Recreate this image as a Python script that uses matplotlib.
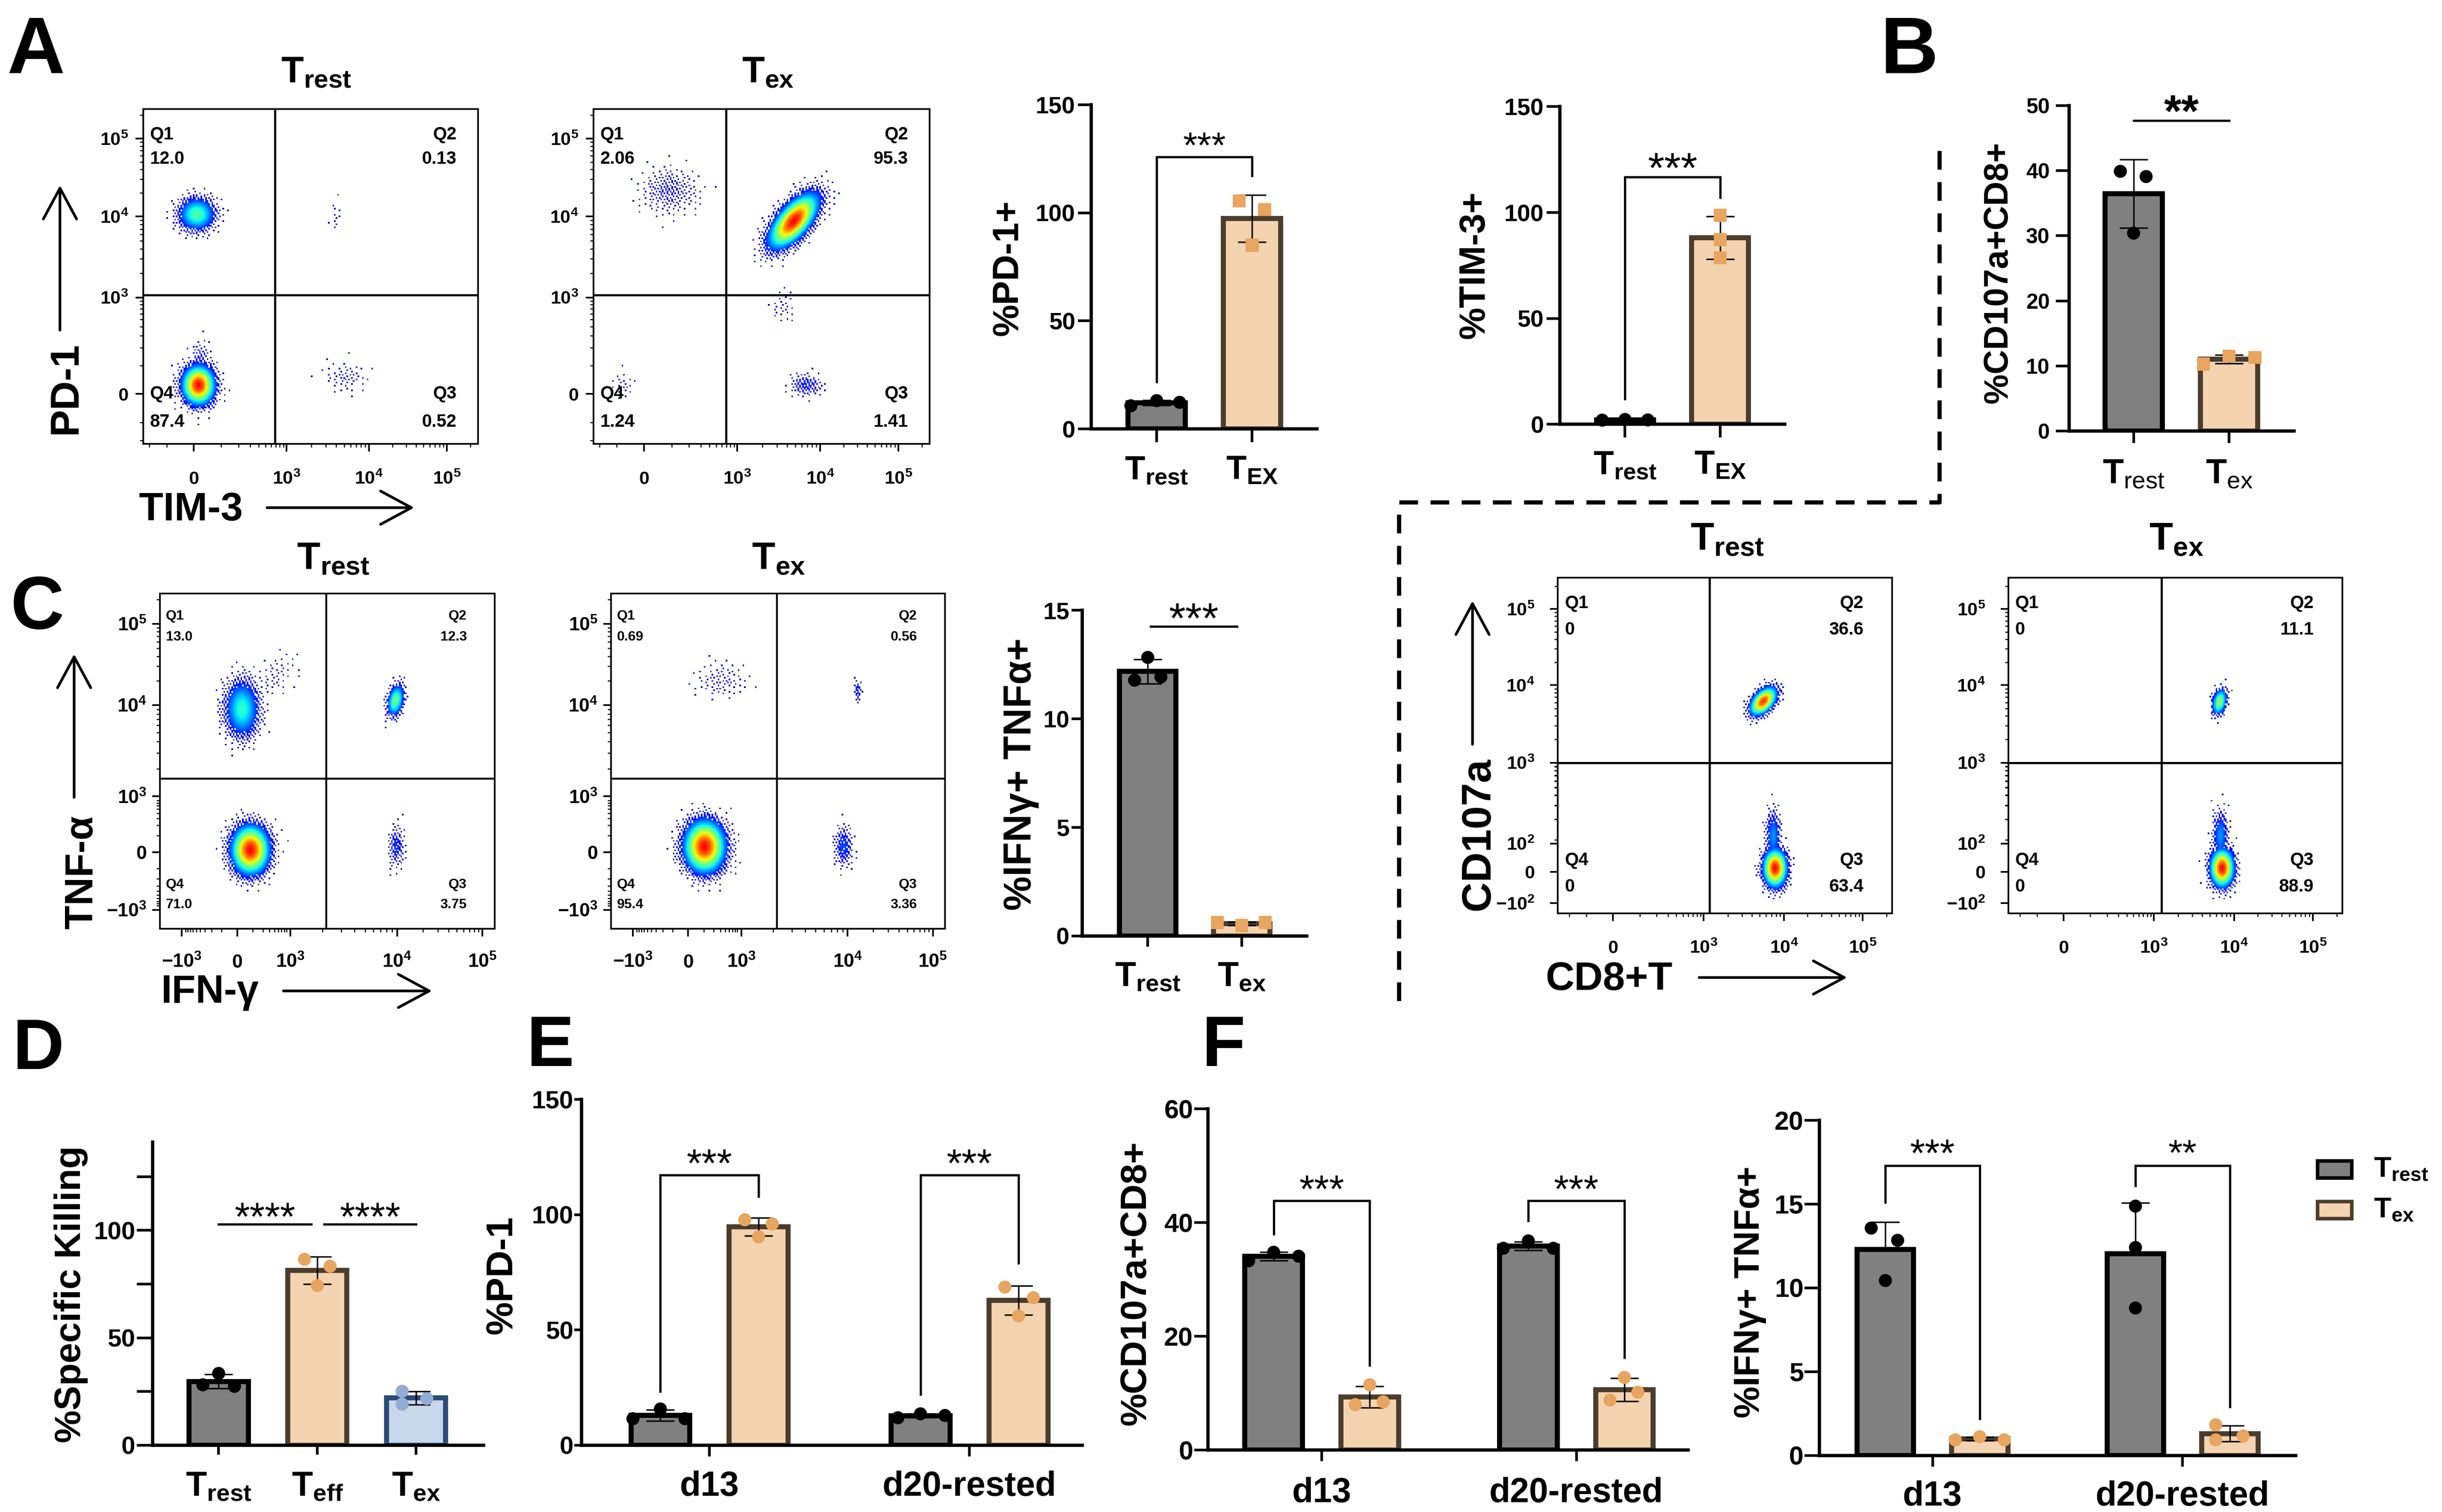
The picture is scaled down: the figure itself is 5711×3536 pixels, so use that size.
import numpy as np
import matplotlib
matplotlib.use("Agg")
import matplotlib.pyplot as plt
from matplotlib.patches import FancyArrowPatch, Rectangle
from matplotlib.lines import Line2D

# ======================= DATA =======================
# quadrant frequencies (Q1, Q2, Q3, Q4)
A_trest_quads = ["12.0", "0.13", "0.52", "87.4"]
A_tex_quads = ["2.06", "95.3", "1.41", "1.24"]
B_trest_quads = ["0", "36.6", "63.4", "0"]
B_tex_quads = ["0", "11.1", "88.9", "0"]
C_trest_quads = ["13.0", "12.3", "3.75", "71.0"]
C_tex_quads = ["0.69", "0.56", "3.36", "95.4"]

# flow axis tick labels
A_ticks = ["0", "10^3", "10^4", "10^5"]
B_xticks = ["0", "10^3", "10^4", "10^5"]
B_yticks = ["-10^2", "0", "10^2", "10^3", "10^4", "10^5"]
C_ticks = ["-10^3", "0", "10^3", "10^4", "10^5"]

# flow population clusters: (x, y, sx, sy, rho, relative density) in plot fractions
A_trest_clusters = [(0.16, 0.685, 0.035, 0.032, 0.0, 0.5), (0.165, 0.175, 0.03, 0.036, 0.0, 1.0),
                    (0.17, 0.25, 0.02, 0.035, 0.0, 0.15), (0.575, 0.68, 0.012, 0.04, 0.0, 0.06),
                    (0.6, 0.2, 0.04, 0.03, 0.0, 0.08)]
A_tex_clusters = [(0.595, 0.665, 0.045, 0.05, 0.65, 1.0), (0.225, 0.755, 0.055, 0.045, 0.0, 0.12),
                  (0.633, 0.175, 0.03, 0.022, 0.0, 0.18), (0.56, 0.41, 0.025, 0.04, 0.0, 0.06),
                  (0.09, 0.175, 0.025, 0.025, 0.0, 0.07)]
C_trest_clusters = [(0.245, 0.655, 0.033, 0.055, 0.0, 0.45), (0.34, 0.75, 0.055, 0.045, 0.5, 0.06),
                    (0.703, 0.68, 0.016, 0.03, 0.3, 0.55), (0.27, 0.235, 0.035, 0.045, 0.0, 1.0),
                    (0.705, 0.245, 0.015, 0.04, 0.0, 0.2)]
C_tex_clusters = [(0.33, 0.74, 0.05, 0.035, 0.0, 0.08), (0.738, 0.71, 0.008, 0.02, 0.0, 0.2),
                  (0.28, 0.245, 0.038, 0.048, 0.0, 1.0), (0.695, 0.245, 0.018, 0.04, 0.0, 0.22)]
B_trest_clusters = [(0.615, 0.632, 0.025, 0.026, 0.5, 0.95), (0.65, 0.135, 0.022, 0.035, 0.0, 1.0),
                    (0.645, 0.23, 0.015, 0.05, 0.0, 0.3)]
B_tex_clusters = [(0.632, 0.63, 0.014, 0.025, 0.3, 0.6), (0.64, 0.135, 0.022, 0.035, 0.0, 1.0),
                  (0.635, 0.23, 0.015, 0.05, 0.0, 0.3)]

# group subscripts
groups_AB = ["rest", "EX"]
groups_2 = ["rest", "ex"]
groups_D = ["rest", "eff", "ex"]
days = ["d13", "d20-rested"]

# bar chart replicate values
pd1_trest = [10.7, 13.1, 12.3]
pd1_tex = [105.5, 101.6, 85.0]
tim3_trest = [2.0, 2.3, 2.1]
tim3_tex = [98.7, 87.2, 78.6]
cd107_trest = [39.9, 39.1, 30.4]
cd107_tex = [10.3, 11.5, 11.3]
ifn_trest = [12.83, 11.78, 11.93]
ifn_tex = [0.62, 0.48, 0.62]
kill_trest = [33.4, 28.1, 27.4]
kill_teff = [86.5, 83.3, 74.3]
kill_tex = [25.1, 21.7, 19.1]
E_trest = [[15.7, 11.5, 11.5], [13.6, 11.9, 12.9]]
E_tex = [[97.8, 96.0, 90.4], [68.6, 64.0, 56.1]]
F1_trest = [[34.8, 33.3, 34.1], [36.8, 35.5, 35.5]]
F1_tex = [[11.5, 8.0, 8.5], [12.8, 8.8, 10.2]]
F2_trest = [[13.57, 12.84, 10.44], [14.88, 12.41, 8.8]]
F2_tex = [[0.93, 1.12, 0.93], [1.83, 0.93, 1.16]]

# ======================= STYLE =======================
plt.rcParams['font.family'] = ['Liberation Sans', 'DejaVu Sans']
plt.rcParams['mathtext.fontset'] = 'custom'
plt.rcParams['mathtext.rm'] = 'Liberation Sans'
plt.rcParams['mathtext.bf'] = 'Liberation Sans:bold'
plt.rcParams['mathtext.it'] = 'Liberation Sans:italic'
plt.rcParams['mathtext.sf'] = 'Liberation Sans'

GRAY = '#808080'
PEACH = '#f3d3b0'
BROWN = '#4b3d2c'
ORANGE = '#e8a55f'
LBLUE = '#c9d7ea'
NAVY = '#2b4a78'
LBLUE_PT = '#93acd3'
BAR_LW = 8.5
MS = 22

fig = plt.figure(figsize=(57.11, 35.36), dpi=100)
fig.patch.set_facecolor('white')
DW, DH = 1568.0, 970.9
EM = (100 / 72) / 3.642   # layout px per point


def R(l, t, r, b):
    return [l / DW, 1 - b / DH, (r - l) / DW, (b - t) / DH]


def P(x, y):
    return (x / DW, 1 - y / DH)


def tsub(sub):
    return r'$\mathregular{T_{%s}}$' % sub


def mt(s):
    if '^' in s:
        b, e = s.split('^')
        return r'$\mathregular{%s^{%s}}$' % (b, e)
    return s


def tval(s):
    if '^' in s:
        b, e = s.split('^')
        return (-1 if b.startswith('-') else 1) * 10 ** int(e)
    return float(s)


def htext(x, yc, s, fs, **kw):
    kw.setdefault('fontweight', 'bold')
    fig.text(x / DW, 1 - (yc + 0.358 * fs * EM) / DH, s, fontsize=fs, ha='center', va='baseline', **kw)


def vtext(xc, y, s, fs, **kw):
    kw.setdefault('fontweight', 'bold')
    fig.text((xc + 0.105 * fs * EM) / DW, 1 - y / DH, s, fontsize=fs, rotation=90,
             ha='center', va='center', **kw)


def arrow(x0, y0, x1, y1):
    fig.add_artist(FancyArrowPatch(P(x0, y0), P(x1, y1), transform=fig.transFigure,
                                   arrowstyle='->,head_length=2.6,head_width=1.4', mutation_scale=20,
                                   lw=4.5, color='k', shrinkA=0, shrinkB=0))


def minor_ticks(vals, pos):
    m = dict(zip(vals, pos))
    out = []
    for v0 in [1e2, 1e3, 1e4, 1e5]:
        v1 = v0 * 10
        if v0 in m and (v1 in m or v0 == 1e5):
            step = (m[v1] - m[v0]) if v1 in m else (m[1e5] - m[1e4])
            out += [m[v0] + step * np.log10(k) for k in range(2, 10)]
    if 0 in m and 1e3 in m:
        span = m[1e3] - m[0]
        for k in range(1, 10):
            f = np.arcsinh(k) / np.arcsinh(10)
            out += [m[0] + span * f, m[0] - span * f]
    return [p for p in out if 0.005 < p < 0.995 and all(abs(p - q) > 0.006 for q in pos)]


def density(ax, clusters):
    # pseudo-colour density of the listed populations; sparse events shown as dots
    n = 216
    g = (np.arange(n) + 0.5) / n
    X, Y = np.meshgrid(g, g)
    D = np.zeros_like(X)
    for cx, cy, sx, sy, rho, amp in clusters:
        dx = (X - cx) / sx
        dy = (Y - cy) / sy
        q = (dx * dx - 2 * rho * dx * dy + dy * dy) / (1 - rho * rho)
        D = np.maximum(D, amp * np.exp(-0.5 * q))
    I, J = np.mgrid[0:n, 0:n]
    thr = (I * 0.7548776662 + J * 0.5698402910) % 1.0   # low-discrepancy dot mask
    show = (D >= 0.22) | (((D / 0.22) ** 1.5 > thr) & (D > 0.004))
    img = plt.cm.jet(0.0 + 0.9 * np.clip(D, 0, 1))
    img[..., 3] = np.where(show, 1.0, 0.0)
    ax.imshow(img, extent=(0, 1, 0, 1), origin='lower', interpolation='nearest', aspect='auto', zorder=1)


def flow_panel(rect, xlabels, xpos, ylabels, ypos, gate, clusters, quads, qx, qy, qfs, tfs,
               xpad, ypad, gate_lw):
    ax = fig.add_axes(R(*rect))
    ax.set_xlim(0, 1)
    ax.set_ylim(0, 1)
    density(ax, clusters)
    ax.axvline(gate[0], color='k', lw=gate_lw, zorder=3)
    ax.axhline(gate[1], color='k', lw=gate_lw, zorder=3)
    for s in ax.spines.values():
        s.set_linewidth(2.8)
    ax.set_xticks(xpos)
    ax.set_xticklabels([mt(s) for s in xlabels], fontsize=tfs, fontweight='bold')
    ax.set_yticks(ypos)
    ax.set_yticklabels([mt(s) for s in ylabels], fontsize=tfs, fontweight='bold')
    ax.set_xticks(minor_ticks([tval(s) for s in xlabels], xpos), minor=True)
    ax.set_yticks(minor_ticks([tval(s) for s in ylabels], ypos), minor=True)
    ax.tick_params(which='major', length=13, width=2.8, direction='out')
    ax.tick_params(which='minor', length=6, width=1.8, direction='out')
    ax.tick_params(axis='x', which='major', pad=xpad)
    ax.tick_params(axis='y', which='major', pad=ypad)
    for t in ax.get_xticklabels():
        t.set_va('baseline')
    # quadrant annotations: Q1 top-left, Q2 top-right, Q3 bottom-right, Q4 bottom-left
    kw = dict(fontsize=qfs, fontweight='bold', va='center', transform=ax.transAxes, zorder=4)
    ax.text(qx[0], qy[0], 'Q1', ha='left', **kw)
    ax.text(qx[0], qy[1], quads[0], ha='left', **kw)
    ax.text(qx[1], qy[0], 'Q2', ha='right', **kw)
    ax.text(qx[1], qy[1], quads[1], ha='right', **kw)
    ax.text(qx[1], qy[2], 'Q3', ha='right', **kw)
    ax.text(qx[1], qy[3], quads[2], ha='right', **kw)
    ax.text(qx[0], qy[2], 'Q4', ha='left', **kw)
    ax.text(qx[0], qy[3], quads[3], ha='left', **kw)
    return ax


def prism_axes(rect, xlim, ylim, yt, ytl, xt, xtl, yfs, xfs, ylen, xlen, ypad, xpad):
    ax = fig.add_axes(R(*rect))
    ax.set_xlim(*xlim)
    ax.set_ylim(*ylim)
    ax.patch.set_alpha(0)
    for s in ['top', 'right']:
        ax.spines[s].set_visible(False)
    for s in ['left', 'bottom']:
        ax.spines[s].set_linewidth(5.5)
    ax.set_yticks(yt)
    ax.set_yticklabels(ytl, fontsize=yfs, fontweight='bold')
    ax.set_xticks(xt)
    ax.set_xticklabels(xtl, fontsize=xfs, fontweight='bold')
    ax.tick_params(axis='y', length=ylen, width=4.5, pad=ypad)
    ax.tick_params(axis='x', length=xlen, width=4.5, pad=xpad)
    return ax


def one_bar(ax, x, pts, offs, fc, ec, pc, marker, down=True, width=0.6):
    pts = np.asarray(pts, float)
    m = pts.mean()
    sd = pts.std(ddof=1)
    ax.bar(x, m, width=width, color=fc, edgecolor=ec, linewidth=BAR_LW, zorder=2)
    yerr = sd if down else [[0], [sd]]
    ax.errorbar([x], [m], yerr=yerr, fmt='none', ecolor='k', elinewidth=2.5, capsize=24,
                capthick=2.5, zorder=3)
    ax.scatter(x + np.asarray(offs), pts, s=MS ** 2, marker=marker, color=pc, edgecolors='none',
               zorder=4, clip_on=False)


def stars(ax, x, yc, s, fs, weight='normal'):
    ax.annotate(s, (x, yc), xytext=(0, -0.58 * fs), textcoords='offset points', ha='center',
                va='baseline', fontsize=fs, fontweight=weight, annotation_clip=False)


def bracket(ax, x1, x2, yl, yt, yr, label, ly, fs):
    ax.plot([x1, x1, x2, x2], [yl, yt, yt, yr], color='k', lw=3.8, clip_on=False, zorder=5,
            solid_joinstyle='miter')
    stars(ax, (x1 + x2) / 2, ly, label, fs)


# ======================= PANEL A =======================
htext(23, 28.6, 'A', 135)
qxA, qyA = (0.02, 0.935), (0.923, 0.85, 0.149, 0.065)
flow_panel((92, 70, 307, 285), A_ticks, [.151, .428, .674, .907], A_ticks, [.149, .437, .679, .912],
           (.393, .445), A_trest_clusters, A_trest_quads, qxA, qyA, 30, 31, 55, 12, 3.6)
flow_panel((381, 70, 597, 285), A_ticks, [.151, .428, .674, .907], A_ticks, [.149, .437, .679, .912],
           (.394, .445), A_tex_clusters, A_tex_quads, qxA, qyA, 30, 31, 55, 12, 3.6)
fig.text(203 / DW, 1 - 52.6 / DH, tsub(groups_2[0]), fontsize=62, fontweight='bold', ha='center', va='baseline')
fig.text(493 / DW, 1 - 52.6 / DH, tsub(groups_2[1]), fontsize=62, fontweight='bold', ha='center', va='baseline')
vtext(39.5, 249, 'PD-1', 68)
arrow(38.5, 212, 38.5, 119)
htext(122.7, 325, 'TIM-3', 67)
arrow(171.5, 326, 266, 326)

# A bar: %PD-1+
ax = prism_axes((700.7, 67.4, 845.7, 275.4), (-0.685, 1.68), (0, 150), [0, 50, 100, 150],
                ['0', '50', '100', '150'], [0, 1], [tsub(s) for s in groups_AB], 40, 56, 22, 22, 5, 22)
one_bar(ax, 0, pd1_trest, [-0.27, 0.0, 0.24], GRAY, 'k', 'k', 'o')
one_bar(ax, 1, pd1_tex, [-0.137, 0.13, 0.0], PEACH, BROWN, ORANGE, 's')
bracket(ax, 0, 1, 21.8, 126, 117.3, '***', 135.5, 62)
vtext(645, 172, '%PD-1+', 61)

# A bar: %TIM-3+
ax = prism_axes((1001.5, 68.5, 1146, 272.5), (-0.687, 1.68), (0, 150), [0, 50, 100, 150],
                ['0', '50', '100', '150'], [0, 1], [tsub(s) for s in groups_AB], 40, 56, 22, 22, 5, 21)
one_bar(ax, 0, tim3_trest, [-0.24, 0.0, 0.24], GRAY, 'k', 'k', 'o')
one_bar(ax, 1, tim3_tex, [0.0, 0.0, 0.0], PEACH, BROWN, ORANGE, 's')
bracket(ax, 0, 1, 12, 116.7, 107, '***', 126, 72)
vtext(944.5, 170, '%TIM-3+', 61)

# ======================= PANEL B =======================
htext(1226, 28.5, 'B', 135)
ax = prism_axes((1328.7, 67.8, 1473, 276.8), (-0.673, 1.68), (0, 50), [0, 10, 20, 30, 40, 50],
                ['0', '10', '20', '30', '40', '50'], [0, 1],
                [r'$\mathbf{T}_{\mathrm{%s}}$' % s for s in groups_2], 36, 58, 22, 20, 11, 26)
one_bar(ax, 0, cd107_trest, [-0.139, 0.131, 0.0], GRAY, 'k', 'k', 'o')
one_bar(ax, 1, cd107_tex, [-0.27, 0.0, 0.27], PEACH, BROWN, ORANGE, 's')
bracket(ax, 0, 1, 47.7, 47.7, 47.7, '', 50.8, 10)
stars(ax, 0.5, 50.8, '**', 76, weight='bold')
vtext(1281, 175, '%CD107a+CD8+', 57)

qxB, qyB = (0.02, 0.914), (0.924, 0.845, 0.158, 0.079)
flow_panel((1000.3, 371, 1215, 586.5), B_xticks, [.165, .436, .676, .912], B_yticks,
           [.03, .124, .208, .449, .68, .907], (.453, .448), B_trest_clusters, B_trest_quads,
           qxB, qyB, 30, 31, 54, 26, 3.6)
flow_panel((1289.6, 371, 1504, 586.5), B_xticks, [.165, .436, .676, .912], B_yticks,
           [.03, .124, .208, .449, .68, .907], (.458, .448), B_tex_clusters, B_tex_quads,
           qxB, qyB, 30, 31, 54, 26, 3.6)
fig.text(1109 / DW, 1 - 353 / DH, tsub(groups_2[0]), fontsize=65, fontweight='bold', ha='center', va='baseline')
fig.text(1397.5 / DW, 1 - 353 / DH, tsub(groups_2[1]), fontsize=65, fontweight='bold', ha='center', va='baseline')
vtext(946.7, 535.6, 'CD107a', 70)
arrow(945.5, 478, 945.5, 385.8)
htext(1033, 626.5, 'CD8+T', 67)
arrow(1091, 627.7, 1186, 627.7)

# dashed separator
dash_x = [1245.5, 1245.5, 898.4, 898.4]
dash_y = [97, 322.5, 322.5, 650.5]
fig.add_artist(Line2D([x / DW for x in dash_x], [1 - y / DH for y in dash_y], transform=fig.transFigure,
                      color='k', lw=7, linestyle=(0, (4.5, 3))))

# ======================= PANEL C =======================
htext(24, 386.5, 'C', 125)
qxC, qyC = (0.018, 0.916), (0.932, 0.87, 0.132, 0.072)
flow_panel((102.6, 381, 317.8, 596.5), C_ticks, [.065, .231, .39, .708, .963], C_ticks,
           [.057, .229, .395, .667, .909], (.497, .448), C_trest_clusters, C_trest_quads,
           qxC, qyC, 23, 32, 52, 9, 3.2)
flow_panel((392.3, 381, 606.9, 596.5), C_ticks, [.065, .231, .39, .708, .963], C_ticks,
           [.057, .229, .395, .667, .909], (.496, .448), C_tex_clusters, C_tex_quads,
           qxC, qyC, 23, 32, 52, 9, 3.2)
fig.text(214 / DW, 1 - 365.4 / DH, tsub(groups_2[0]), fontsize=64, fontweight='bold', ha='center', va='baseline')
fig.text(500 / DW, 1 - 365.4 / DH, tsub(groups_2[1]), fontsize=64, fontweight='bold', ha='center', va='baseline')
vtext(50, 560, 'TNF-α', 66)
arrow(47.6, 512, 47.6, 420)
htext(135, 635, 'IFN-γ', 66)
arrow(182, 636.3, 277.4, 636.3)

ax = prism_axes((695, 391.9, 839, 601), (-0.695, 1.69), (0, 15), [0, 5, 10, 15], ['0', '5', '10', '15'],
                [0, 1], [tsub(s) for s in groups_2], 40, 58, 18, 18, 4, 24)
one_bar(ax, 0, ifn_trest, [0.0, -0.14, 0.14], GRAY, 'k', 'k', 'o')
one_bar(ax, 1, ifn_tex, [-0.26, 0.0, 0.25], PEACH, BROWN, ORANGE, 's')
bracket(ax, 0.03, 0.95, 14.26, 14.26, 14.26, '***', 15.1, 72)
vtext(653, 497, '%IFNγ+ TNFα+', 65)

# ======================= PANEL D =======================
htext(24.8, 670, 'D', 120)
ax = prism_axes((97.9, 733.5, 310.6, 928), (-0.671, 2.687), (0, 141), [0, 25, 50, 75, 100, 125],
                ['0', '', '50', '', '100', ''], [0, 1, 2], [tsub(s) for s in groups_D],
                42, 58, 27, 16, 2, 27)
one_bar(ax, 0, kill_trest, [0.0, -0.16, 0.16], GRAY, 'k', 'k', 'o')
one_bar(ax, 1, kill_teff, [-0.13, 0.13, 0.0], PEACH, BROWN, ORANGE, 'o')
one_bar(ax, 2, kill_tex, [-0.14, 0.11, -0.14], LBLUE, NAVY, LBLUE_PT, 'o')
bracket(ax, 0.0, 0.94, 102.9, 102.9, 102.9, '****', 110.8, 66)
bracket(ax, 1.07, 2.0, 102.9, 102.9, 102.9, '****', 110.8, 66)
vtext(43, 831, '%Specific Killing', 62)

# ======================= PANEL E =======================
htext(353.5, 668, 'E', 120)
XB = [0, 1, 2.65, 3.65]
XG = [0.5, 3.15]
ax = prism_axes((373.5, 706, 695, 928), (-0.802, 4.30), (0, 150), [0, 50, 100, 150],
                ['0', '50', '100', '150'], XG, days, 42, 58, 12, 19, 2, 24)
one_bar(ax, XB[0], E_trest[0], [0.0, -0.28, 0.25], GRAY, 'k', 'k', 'o')
one_bar(ax, XB[1], E_tex[0], [-0.14, 0.14, 0.0], PEACH, BROWN, ORANGE, 'o')
one_bar(ax, XB[2], E_trest[1], [0.0, -0.23, 0.25], GRAY, 'k', 'k', 'o')
one_bar(ax, XB[3], E_tex[1], [-0.14, 0.15, 0.0], PEACH, BROWN, ORANGE, 'o')
bracket(ax, XB[0], XB[1], 23.4, 117.2, 108, '***', 126.5, 66)
bracket(ax, XB[2], XB[3], 22, 117.2, 78.9, '***', 126.5, 66)
vtext(320, 818.7, '%PD-1', 63)

# ======================= PANEL F =======================
htext(785.6, 668, 'F', 120)
ax = prism_axes((775.6, 712.1, 1084, 931.2), (-0.684, 4.314), (0, 60), [0, 20, 40, 60],
                ['0', '20', '40', '60'], XG, days, 44, 58, 23, 19, 2, 26)
one_bar(ax, XB[0], F1_trest[0], [0.0, -0.26, 0.26], GRAY, 'k', 'k', 'o')
one_bar(ax, XB[1], F1_tex[0], [0.0, -0.15, 0.14], PEACH, BROWN, ORANGE, 'o')
one_bar(ax, XB[2], F1_trest[1], [0.0, -0.26, 0.26], GRAY, 'k', 'k', 'o')
one_bar(ax, XB[3], F1_tex[1], [0.0, -0.15, 0.14], PEACH, BROWN, ORANGE, 'o')
bracket(ax, XB[0], XB[1], 38, 43.9, 14.9, '***', 47.6, 65)
bracket(ax, XB[2], XB[3], 40.3, 43.9, 16.3, '***', 47.6, 65)
vtext(727, 823.8, '%CD107a+CD8+', 62)

ax = prism_axes((1168.3, 719.4, 1474, 934.6), (-0.698, 4.347), (0, 20), [0, 5, 10, 15, 20],
                ['0', '5', '10', '15', '20'], XG, days, 44, 58, 25, 19, 2, 23)
one_bar(ax, XB[0], F2_trest[0], [-0.15, 0.13, 0.0], GRAY, 'k', 'k', 'o', down=False)
one_bar(ax, XB[1], F2_tex[0], [-0.26, 0.0, 0.26], PEACH, BROWN, ORANGE, 'o')
one_bar(ax, XB[2], F2_trest[1], [0.0, 0.0, 0.0], GRAY, 'k', 'k', 'o', down=False)
one_bar(ax, XB[3], F2_tex[1], [-0.15, -0.15, 0.14], PEACH, BROWN, ORANGE, 'o')
bracket(ax, XB[0], XB[1], 15.1, 17.3, 2.2, '***', 18.6, 65)
bracket(ax, XB[2], XB[3], 16.1, 17.3, 2.9, '**', 18.6, 62)
vtext(1121, 829.6, '%IFNγ+ TNFα+', 60)

# legend
for (fc, ec), top, sub in zip([(GRAY, 'k'), (PEACH, BROWN)], [745.5, 771.5], groups_2):
    fig.add_artist(Rectangle(P(1488, top + 11), 22 / DW, 11 / DH, transform=fig.transFigure,
                             facecolor=fc, edgecolor=ec, lw=6))
    fig.text(1524 / DW, 1 - (top + 10) / DH, tsub(sub), fontsize=48, fontweight='bold', ha='left',
             va='baseline')

fig.savefig('out.png', dpi=100, facecolor='white')
